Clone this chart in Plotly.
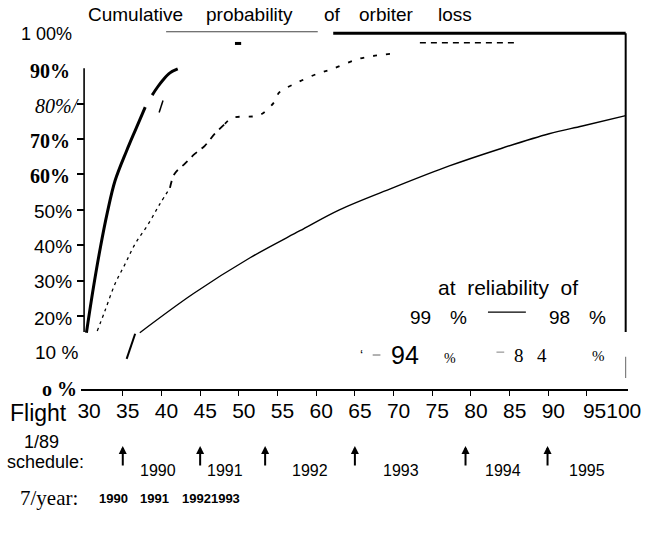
import plotly.graph_objects as go

# ---------------- data ----------------
flight_label_vals = [30, 35, 40, 45, 50, 55, 60, 65, 70, 75, 80, 85, 90, 97.6]
flight_label_text = ["30", "35", "40", "45", "50", "55", "60", "65", "70", "75", "80", "85", "90", "95100"]
flight_tick_marks = [35, 40, 45, 50, 55, 60, 65, 70, 75, 80, 85, 90, 95]

# thick solid curve (lowest reliability)
thick_lo_x = [30.3, 31.2, 32.1, 33.0, 34.0, 35.5, 36.6, 37.9]
thick_lo_y = [15.3, 28.0, 39.3, 49.2, 58.2, 66.7, 72.4, 79.0]
thick_hi_x = [38.8, 39.5, 40.2, 41.1, 42.1]
thick_hi_y = [82.4, 84.7, 86.7, 88.7, 89.8]
stray_x = [39.7, 40.2]
stray_y = [77.5, 80.9]

# dashed curve (94 %)
dash_a_x = [31.7, 32.7, 34.0, 35.3, 36.6, 38.3, 39.8, 41.1]
dash_a_y = [15.8, 21.5, 29.1, 34.7, 40.4, 46.0, 51.7, 56.2]
dash_b_x = [41.1, 41.7, 43.0, 44.3, 45.6, 46.9, 48.2]
dash_b_y = [56.2, 60.2, 63.0, 65.8, 68.1, 71.5, 74.3]
dash_c_x = [48.2, 49.2, 52.7, 54.7, 55.2, 57.5, 60.1, 62.1, 65.6, 69.7]
dash_c_y = [74.3, 76.0, 76.8, 80.8, 83.1, 85.9, 88.4, 89.8, 92.7, 94.1]
dash_d_x = [73.4, 85.9]
dash_d_y = [97.2, 97.2]

# thin solid curve (99 %)
thin_stub_x = [35.5, 36.6]
thin_stub_y = [7.9, 15.0]
thin_x = [37.2, 44.1, 51.4, 57.9, 63.0, 69.9, 77.2, 83.7, 90.1, 94.4, 100.0]
thin_y = [15.3, 26.3, 36.4, 44.1, 50.0, 56.2, 62.4, 67.2, 71.5, 73.7, 76.6]

# frame pieces of the scanned figure
top_thin_x = [40.6, 60.2]
top_thin_y = [100.3, 100.3]
top_thick_x = [62.2, 100.0]
top_thick_y = [99.9, 99.9]
top_mark_x = [49.5, 50.3]
top_mark_y = [97.0, 97.0]
yaxis_x = [30, 30]
yaxis_y = [90, 15.5]
right_x = [100, 100]
right_y = [99.9, 15.5]
right_low_x = [100, 100]
right_low_y = [2.5, 8.5]

# legend samples
leg_line_x = [82.2, 87.1]
leg_line_y = [21.1, 21.1]
leg_g1_x = [67.3, 68.3]
leg_g1_y = [9.0, 9.0]
leg_g2_x = [83.3, 84.3]
leg_g2_y = [9.8, 9.8]

# y labels
y_label_vals = [100, 90, 80, 70, 60, 50, 40, 30, 20, 10, 0]
y_label_text = ["1 00%", "90%", "80%/", "70%", "60%", "50%", "40%", "30%", "20%", "10 %", "o %"]
y_tick_marks = [20, 30, 40, 50, 60, 70, 80]

# 1/89 schedule
sched_flights = [35, 45, 53.4, 65, 79.3, 89.9]
sched_years = ["1990", "1991", "1992", "1993", "1994", "1995"]
# 7/year
rate_years = ["1990", "1991", "19921993"]

# ---------------- figure ----------------
W, H = 661, 536
L, R, T, B = 81, 33, 30, 147
XR = [29.6, 100.3]
YR = [-0.6, 100.8]
PW, PH = W - L - R, H - T - B


def xp(px):
    return (px - L) / PW


def yp(py):
    return 1 - (py - T) / PH


fig = go.Figure()


def line(x, y, width, dash="solid", color="black", shape="spline"):
    fig.add_trace(go.Scatter(x=x, y=y, mode="lines",
                             line=dict(color=color, width=width, dash=dash, shape=shape),
                             hoverinfo="skip", showlegend=False))


line(thick_lo_x, thick_lo_y, 3)
line(thick_hi_x, thick_hi_y, 3)
line(stray_x, stray_y, 1.5, shape="linear")
line(dash_a_x, dash_a_y, 1.3, dash="3px,4px")
line(dash_b_x, dash_b_y, 1.8, dash="7px,6px")
line(dash_c_x, dash_c_y, 1.8, dash="4px,9px")
line(dash_d_x, dash_d_y, 1.5, dash="6px,5px", shape="linear")
line(thin_stub_x, thin_stub_y, 2, shape="linear")
line(thin_x, thin_y, 1.4)
line(top_thin_x, top_thin_y, 1.2, color="#444", shape="linear")
line(top_thick_x, top_thick_y, 3, shape="linear")
line(top_mark_x, top_mark_y, 3, shape="linear")
line(yaxis_x, yaxis_y, 1.6, shape="linear")
line(right_x, right_y, 2, shape="linear")
line(right_low_x, right_low_y, 1, color="#666", shape="linear")
line(leg_line_x, leg_line_y, 1.3, shape="linear")
line(leg_g1_x, leg_g1_y, 1.5, color="#999", shape="linear")
line(leg_g2_x, leg_g2_y, 1.5, color="#aaa", shape="linear")

ann = []
SANS = "Liberation Sans, Arial, sans-serif"
SERIF = "Liberation Serif, Times New Roman, serif"


def fnt(size, family=SANS, bold=False, italic=False, color="black"):
    return dict(family=family, size=size, color=color,
                weight="bold" if bold else "normal",
                style="italic" if italic else "normal")


def text(t, px, py, size=20, family=SANS, anchor="left", bold=False, italic=False, color="black"):
    ann.append(dict(text=t, x=xp(px), y=yp(py), xref="paper", yref="paper",
                    xanchor=anchor, yanchor="middle", showarrow=False,
                    font=fnt(size, family, bold, italic, color)))


# title words
for w, px in zip(["Cumulative", "probability", "of", "orbiter", "loss"], [86, 204, 322, 357, 436]):
    text(w, px, 15, size=19)

# y labels with their mixed fonts
y_styles = [
    (SANS, 18, False, False, 74, 1),
    (SERIF, 20, True, False, 72, 3),
    (SERIF, 20, False, True, 82, 2),
    (SERIF, 20, True, False, 72, 2),
    (SERIF, 20, True, False, 72, 2),
    (SANS, 19, False, False, 74, 2),
    (SANS, 19, False, False, 74, 1),
    (SANS, 19, False, False, 74, 1),
    (SANS, 19, False, False, 74, 2),
    (SANS, 19, False, False, 80, 1),
    (SERIF, 20, True, False, 79, 2),
]
for v, t, st in zip(y_label_vals, y_label_text, y_styles):
    fam, sz, b, it, right, dy = st
    ann.append(dict(text=t, x=xp(right), y=v, xref="paper", yref="y", yshift=-dy,
                    xanchor="right", yanchor="middle", showarrow=False,
                    font=fnt(sz, fam, b, it)))

# legend texts
text("at\u00a0 reliability\u00a0 of", 436, 287, size=21)
text("99", 408, 317, size=19)
text("%", 448, 317, size=19)
text("98", 547, 317, size=19)
text("%", 587, 317, size=19)
text("\u2018", 358, 355, size=14)
text("94", 389, 355, size=25)
text("%", 442, 358, size=14, family=SERIF)
text("8", 512, 355, size=19, family=SERIF)
text("4", 535, 355, size=19, family=SERIF)
text("%", 590, 356, size=15, family=SERIF)

# x axis caption
text("Flight", 8, 413, size=23)

# schedule row
text("1/89", 41, 442, size=18, anchor="center")
text("schedule:", 5, 462, size=18)
offs = [15, 5, 25, 26, 17, 19]
for f, yr, o in zip(sched_flights, sched_years, offs):
    ann.append(dict(x=f, y=yp(446), xref="x", yref="paper", text="", showarrow=True,
                    ax=0, ay=21, arrowhead=2, arrowsize=0.8, arrowwidth=2, arrowcolor="black"))
    ann.append(dict(x=f, y=yp(470), xref="x", yref="paper", text=yr, showarrow=False,
                    xanchor="left", yanchor="middle", xshift=o, font=fnt(16)))

# 7/year row
text("7/year:", 18, 498, size=21, family=SERIF)
for yr, px in zip(rate_years, [97, 138, 180]):
    text(yr, px, 498, size=13, bold=True)

fig.update_layout(
    width=W, height=H, autosize=False,
    margin=dict(l=L, r=R, t=T, b=B, pad=0),
    paper_bgcolor="white", plot_bgcolor="white",
    showlegend=False,
    annotations=ann,
    xaxis=dict(range=XR, tickvals=flight_label_vals, ticktext=flight_label_text,
               tickfont=dict(family=SANS, size=21, color="black"),
               ticks="outside", ticklen=5, tickwidth=1, tickcolor="rgba(0,0,0,0)",
               ticklabelshift=5, ticklabelstandoff=-3,
               minor=dict(tickvals=flight_tick_marks, ticks="outside", ticklen=5,
                          tickwidth=1, tickcolor="black", showgrid=False),
               showline=True, linecolor="black", linewidth=1.6,
               showgrid=False, zeroline=False, fixedrange=True),
    yaxis=dict(range=YR, anchor="free", position=(84 - L) / PW,
               tickvals=y_tick_marks, showticklabels=False,
               ticks="outside", ticklen=7, tickwidth=1.5, tickcolor="black",
               showline=False, showgrid=False, zeroline=False, fixedrange=True),
)

fig.write_html("out.html", config={"displayModeBar": False},
               post_script="document.body.style.margin='0';document.body.style.overflow='hidden';")
